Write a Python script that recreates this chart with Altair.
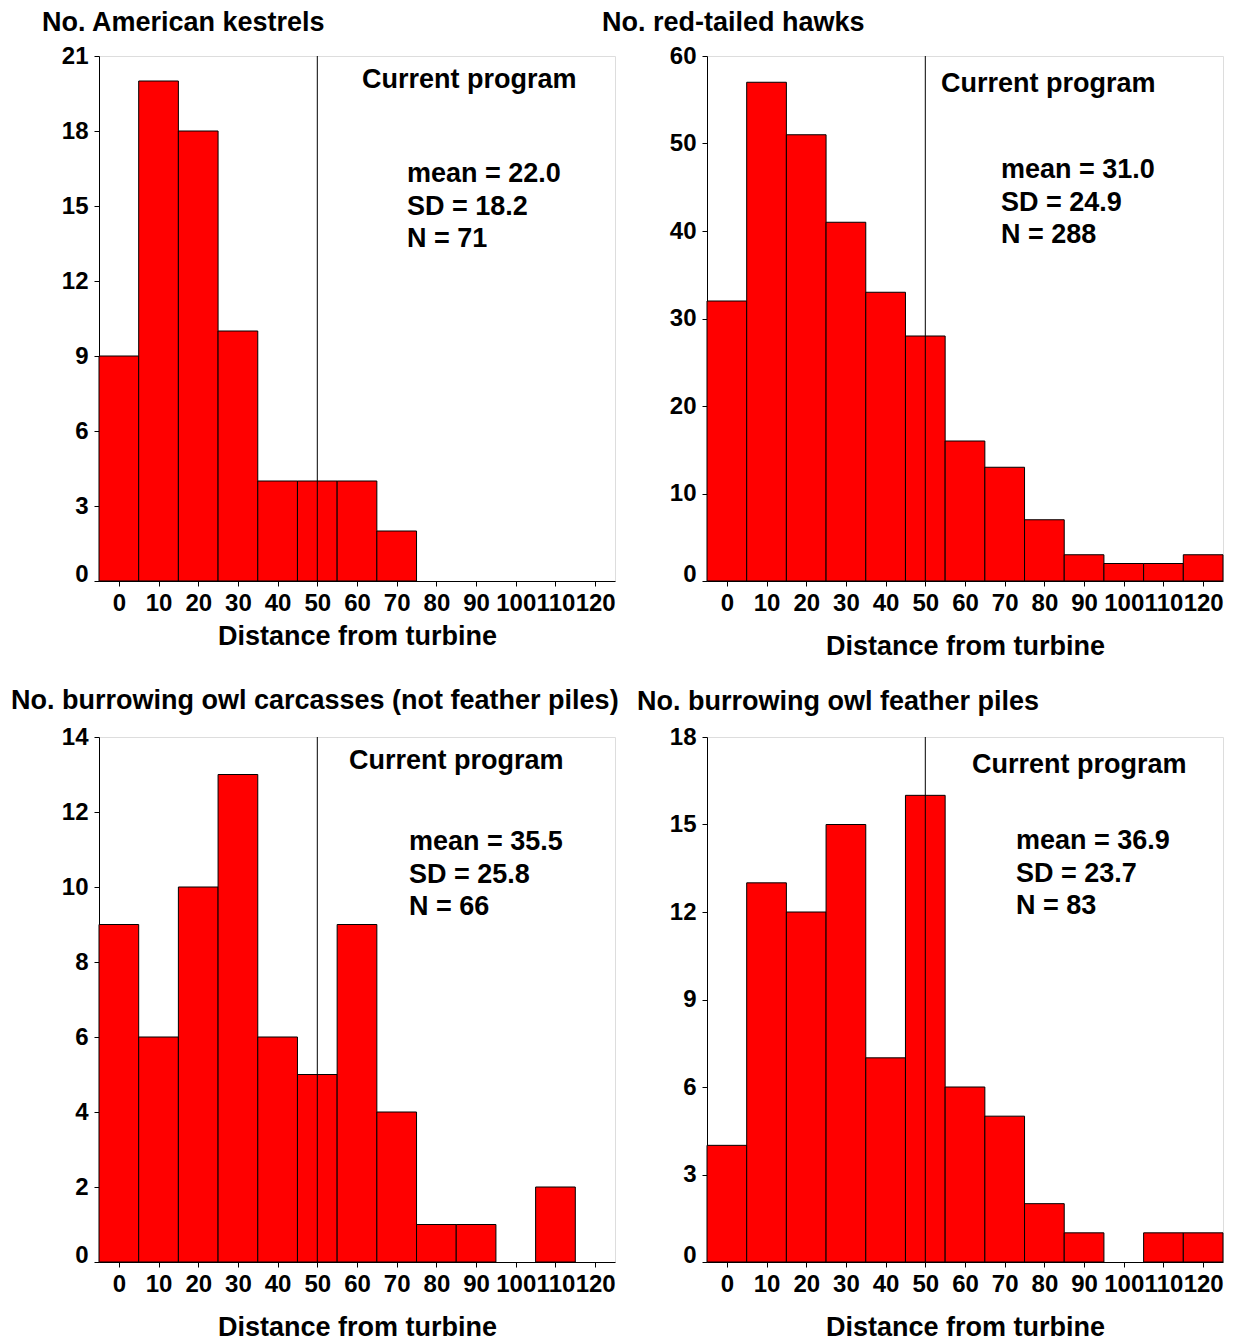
import altair as alt
import pandas as pd

# ---------------- data ----------------
distance = [0, 10, 20, 30, 40, 50, 60, 70, 80, 90, 100, 110, 120]
kestrels = [9, 20, 18, 10, 4, 4, 4, 2, 0, 0, 0, 0, 0]
hawks = [32, 57, 51, 41, 33, 28, 16, 13, 7, 3, 2, 2, 3]
owl_carcasses = [9, 6, 10, 13, 6, 5, 9, 4, 1, 1, 0, 2, 0]
owl_feathers = [4, 13, 12, 15, 7, 16, 6, 5, 2, 1, 0, 1, 1]

titles = [
    "No. American kestrels",
    "No. red-tailed hawks",
    "No. burrowing owl carcasses (not feather piles)",
    "No. burrowing owl feather piles",
]
means = ["22.0", "31.0", "35.5", "36.9"]
sds = ["18.2", "24.9", "25.8", "23.7"]
ns = ["71", "288", "66", "83"]
y_max = [21, 60, 14, 18]
y_step = [3, 10, 2, 3]
reference_distance = 50
x_title = "Distance from turbine"
program_label = "Current program"

# ---------------- styles / layout ----------------
FONT = "Liberation Sans"
BIG = 27
TICK = 24
W, H = 516, 525
title_dx = [-57, -105, -88, -70]
title_offset = [7, 7, 10, 9]
x_title_pad = [8, 18, 18, 18]
label_pos = [(263, 24), (234, 28), (250, 24), (265, 28)]
stats_pos = [(308, 118), (294, 114), (310, 105), (309, 104)]
line_gap = 32.5


def panel(i, counts):
    df = pd.DataFrame({"distance": distance, "count": counts})
    df = df[df["count"] > 0].copy()
    df["lo"] = df["distance"] - 5
    df["hi"] = df["distance"] + 5
    df["base"] = 0

    xscale = alt.Scale(domain=[-5, 125], nice=False, zero=False)
    yscale = alt.Scale(domain=[0, y_max[i]], nice=False)

    bars = alt.Chart(df).mark_bar(
        color="#FF0000", stroke="black", strokeWidth=1
    ).encode(
        x=alt.X(
            "lo:Q",
            scale=xscale,
            axis=alt.Axis(
                values=distance,
                title=x_title,
                titleFont=FONT,
                titleFontSize=BIG,
                titleFontWeight="bold",
                titleColor="black",
                titlePadding=x_title_pad[i],
                labelFont=FONT,
                labelFontSize=TICK,
                labelFontWeight="bold",
                labelColor="black",
                labelOverlap=False,
                labelFlush=False,
                labelBound=False,
                labelPadding=5,
                tickSize=5,
                tickColor="black",
                domainColor="black",
                grid=False,
            ),
        ),
        x2="hi:Q",
        y=alt.Y(
            "count:Q",
            scale=yscale,
            axis=alt.Axis(
                values=list(range(0, y_max[i] + 1, y_step[i])),
                title=None,
                labelFont=FONT,
                labelFontSize=TICK,
                labelFontWeight="bold",
                labelColor="black",
                labelPadding=6,
                labelBaseline={"expr": "datum.value === 0 ? 'alphabetic' : 'middle'"},
                tickSize=5,
                tickColor="black",
                domainColor="black",
                grid=False,
            ),
        ),
        y2="base:Q",
    )

    rule = alt.Chart(pd.DataFrame({"ref": [reference_distance]})).mark_rule(
        color="black", strokeWidth=1
    ).encode(x=alt.X("ref:Q", scale=xscale))

    one = pd.DataFrame({"k": [0]})
    lx, ly = label_pos[i]
    sx, sy = stats_pos[i]
    texts = [
        (program_label, lx, ly),
        ("mean = " + means[i], sx, sy),
        ("SD = " + sds[i], sx, sy + line_gap),
        ("N = " + ns[i], sx, sy + 2 * line_gap),
    ]
    text_layers = [
        alt.Chart(one).mark_text(
            font=FONT, fontSize=BIG, fontWeight="bold", color="black",
            align="left", baseline="middle",
        ).encode(x=alt.value(tx), y=alt.value(ty), text=alt.value(t))
        for t, tx, ty in texts
    ]

    return alt.layer(bars, rule, *text_layers).properties(
        width=W,
        height=H,
        title=alt.TitleParams(
            titles[i],
            anchor="start",
            frame="group",
            dx=title_dx[i],
            offset=title_offset[i],
            font=FONT,
            fontSize=BIG,
            fontWeight="bold",
            color="black",
        ),
    )


charts = [panel(i, c) for i, c in enumerate([kestrels, hawks, owl_carcasses, owl_feathers])]

chart = alt.concat(
    *charts, columns=2, spacing={"row": 156, "column": 92}, bounds="flush"
).properties(
    padding={"left": 2, "top": 0, "right": 2, "bottom": 0}
).configure_view(
    stroke="black", strokeWidth=1
).configure(background="white")

chart.save("out.html", embed_options={"renderer": "svg", "actions": False})
